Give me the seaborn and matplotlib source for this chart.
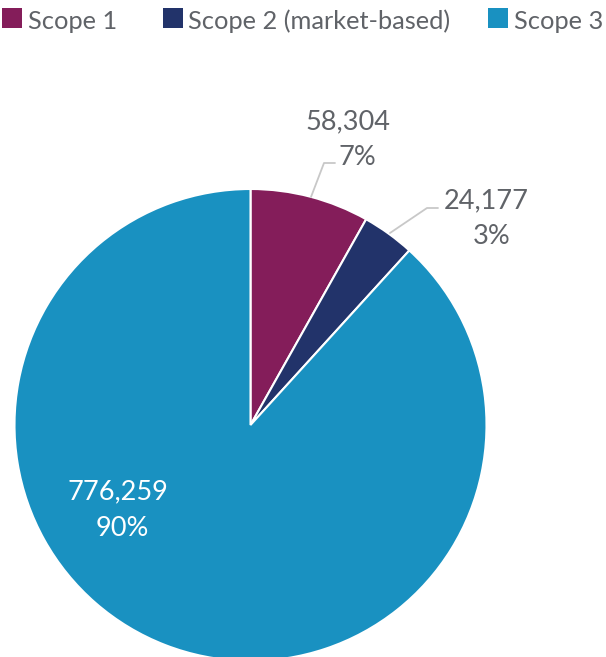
import matplotlib
matplotlib.use("Agg")
import matplotlib.pyplot as plt
from matplotlib.patches import Rectangle
import seaborn as sns

categories = ["Scope 1", "Scope 2 (market-based)", "Scope 3"]
values = [58304, 24177, 776259]
percent_labels = ["7%", "3%", "90%"]
# slice sizes (percent of the circle) as drawn in the reference picture
wedge_shares = [8.15, 3.6, 88.25]
colors = ["#841d5a", "#22336a", "#1991c1"]

sns.set_theme(style="white")
plt.rcParams["font.family"] = ["Lato", "DejaVu Sans"]

W, H = 606, 657
fig = plt.figure(figsize=(W / 100, H / 100), dpi=100)
cx, cy, r = 250.5, 425, 236
ax = fig.add_axes([(cx - r) / W, (H - cy - r) / H, 2 * r / W, 2 * r / H])
wedges, _ = ax.pie(wedge_shares, colors=colors, startangle=90, counterclock=False,
                   radius=1, wedgeprops=dict(edgecolor="white", linewidth=1.5))
ax.set_xlim(-1, 1)
ax.set_ylim(-1, 1)
ax.set_aspect("equal")
ax.axis("off")

def px(x, y):
    # pixel coords (from top-left) -> data coords
    return ((x - cx) / r, (cy - y) / r)

text_color = "#606368"
line_color = "#c8c8c8"
fs = 19.5

def put(x, y, s, color):
    ax.text(*px(x, y), s, ha="center", va="baseline", fontsize=fs, color=color)

# Scope 1 outside label with leader
pts = [px(311, 197), px(324, 163), px(335, 163)]
ax.plot([p[0] for p in pts], [p[1] for p in pts], color=line_color, lw=1.3, clip_on=False)
put(348, 129, f"{values[0]:,}", text_color)
put(357, 165, percent_labels[0], text_color)

# Scope 2 outside label with leader
pts = [px(390, 233), px(427, 208), px(438, 208)]
ax.plot([p[0] for p in pts], [p[1] for p in pts], color=line_color, lw=1.3, clip_on=False)
put(486, 208, f"{values[1]:,}", text_color)
put(492, 244, percent_labels[1], text_color)

# Scope 3 inside label
put(117.5, 499, f"{values[2]:,}", "white")
put(122.5, 536, percent_labels[2], "white")

# legend (top row): square swatch + label
legend_x = [2, 163, 488]
for x0, c, name in zip(legend_x, colors, categories):
    fig.patches.append(Rectangle((x0 / W, (H - 28) / H), 20 / W, 20 / H,
                                 transform=fig.transFigure, facecolor=c,
                                 edgecolor="none"))
    fig.text((x0 + 25.5) / W, (H - 29) / H, name, ha="left", va="baseline",
             fontsize=18.3, color=text_color)

fig.savefig("out.png", dpi=100)
